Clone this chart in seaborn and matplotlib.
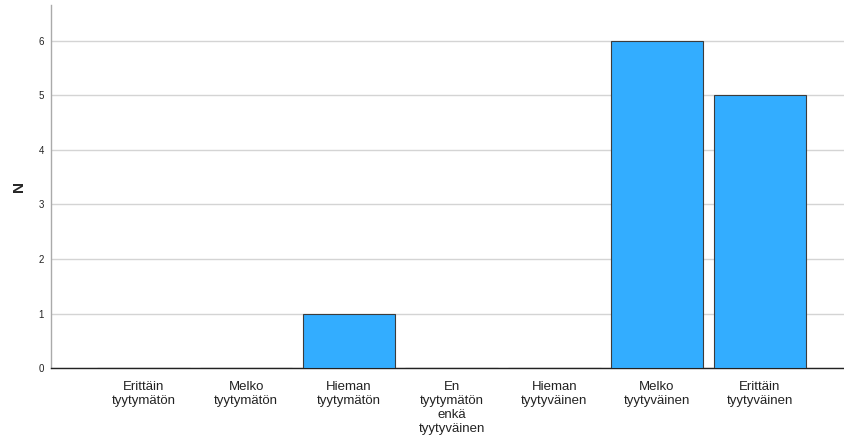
import matplotlib
matplotlib.use('Agg')
import matplotlib.pyplot as plt
import seaborn as sns
import pandas as pd

categories = ['Erittäin\ntyytymätön', 'Melko\ntyytymätön', 'Hieman\ntyytymätön',
              'En\ntyytymätön\nenkä\ntyytyväinen', 'Hieman\ntyytyväinen',
              'Melko\ntyytyväinen', 'Erittäin\ntyytyväinen']
counts = [0, 0, 1, 0, 0, 6, 5]
y_ticks = [0, 1, 2, 3, 4, 5, 6]

df = pd.DataFrame({'category': categories, 'N': counts})

sns.set_style('white')
plt.rcParams['font.family'] = ['Liberation Sans', 'DejaVu Sans']

fig = plt.figure(figsize=(8.44, 4.42), dpi=100)
ax = fig.add_axes([0.0604, 0.1674, 0.9396, 0.8213])

sns.barplot(data=df, x='category', y='N', ax=ax, color='#33adff', saturation=1,
            width=0.9, edgecolor='#3c3c3c', linewidth=0.8, zorder=3)

ax.set_ylim(0, 6.66)
ax.set_xlim(-0.9, 6.82)
ax.set_yticks(y_ticks)
ax.set_yticklabels([str(t) for t in y_ticks], fontsize=7, color='#222222')
ax.tick_params(axis='both', length=0, pad=5)
ax.tick_params(axis='x', labelsize=9.5, pad=9, colors='#222222')
for lbl in ax.get_xticklabels():
    lbl.set_linespacing(1.25)

ax.yaxis.grid(True, color='#d4d4d4', linewidth=1, zorder=0)
ax.set_axisbelow(True)
ax.set_xlabel('')
ax.set_ylabel('N', fontsize=11, fontweight='bold', labelpad=9)

for side in ['top', 'right']:
    ax.spines[side].set_visible(False)
ax.spines['left'].set_color('#aaaaaa')
ax.spines['left'].set_linewidth(1)
ax.spines['bottom'].set_color('#222222')
ax.spines['bottom'].set_linewidth(1)

fig.savefig('out.png', dpi=100)
